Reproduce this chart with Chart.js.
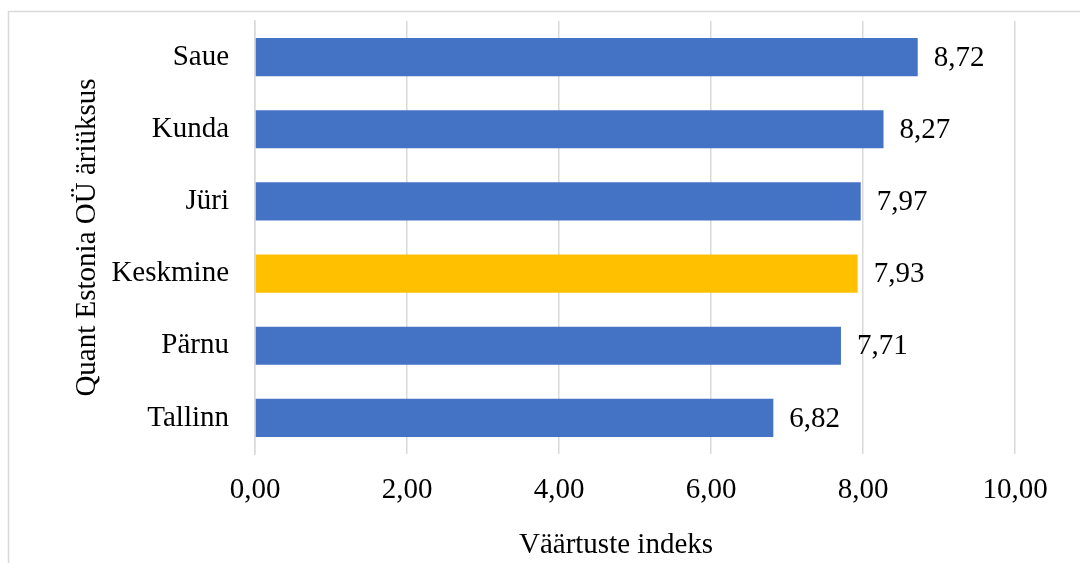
<!DOCTYPE html>
<html>
<head>
<meta charset="utf-8">
<script src="https://cdn.jsdelivr.net/npm/chart.js@4/dist/chart.umd.min.js"></script>
<style>
  html, body { margin: 0; padding: 0; background: #fff; }
  #wrap { position: relative; width: 1080px; height: 563px; }
</style>
</head>
<body>
<div id="wrap"><canvas id="chart"></canvas></div>
<script>
// Business units and their value index
const categories = ['Saue', 'Kunda', 'Jüri', 'Keskmine', 'Pärnu', 'Tallinn'];
const indexValues = [8.72, 8.27, 7.97, 7.93, 7.71, 6.82];
const tickValues = [0, 2, 4, 6, 8, 10];
const xTitle = 'Väärtuste indeks';
const yTitle = 'Quant Estonia OÜ äriüksus';
const averageLabel = 'Keskmine';

const FONT = '"Liberation Serif", "Times New Roman", serif';
const SIZE = 29;
const fmt = v => Number(v).toFixed(2).replace('.', ',');

Chart.defaults.color = '#000';
Chart.defaults.font.family = FONT;
Chart.defaults.font.size = SIZE;

const barColors = categories.map(c => c === averageLabel ? '#FFC000' : '#4472C4');

// Light grey frame around the chart
const framePlugin = {
  id: 'frame',
  beforeDraw(chart) {
    const ctx = chart.ctx;
    ctx.save();
    ctx.strokeStyle = '#d9d9d9';
    ctx.lineWidth = 1.5;
    ctx.strokeRect(8.5, 11.5, chart.width + 40, chart.height + 40);
    ctx.restore();
  }
};

// Value labels to the right of each bar, plus the value-axis title
const labelPlugin = {
  id: 'valueLabels',
  afterDatasetsDraw(chart) {
    const ctx = chart.ctx;
    const meta = chart.getDatasetMeta(0);
    ctx.save();
    ctx.font = SIZE + 'px ' + FONT;
    ctx.fillStyle = '#000';
    ctx.textAlign = 'left';
    ctx.textBaseline = 'middle';
    meta.data.forEach((bar, i) => {
      ctx.fillText(fmt(indexValues[i]), bar.x + 16, bar.y + 1);
    });
    const area = chart.chartArea;
    ctx.textAlign = 'center';
    ctx.fillText(xTitle, (area.left + area.right) / 2 - 19, chart.height - 18);
    ctx.restore();
  }
};

new Chart(document.getElementById('chart'), {
  type: 'bar',
  data: {
    labels: categories,
    datasets: [{
      data: indexValues,
      backgroundColor: barColors,
      borderWidth: 0,
      categoryPercentage: 1,
      barPercentage: 0.53
    }]
  },
  options: {
    indexAxis: 'y',
    responsive: true,
    maintainAspectRatio: false,
    animation: false,
    layout: { padding: { top: 0, right: 65, left: 0, bottom: 0 } },
    plugins: {
      legend: { display: false },
      tooltip: { enabled: false }
    },
    scales: {
      x: {
        min: 0,
        max: 10,
        afterBuildTicks(scale) { scale.ticks = tickValues.map(v => ({ value: v })); },
        afterFit(scale) { scale.height = 109; },
        grid: { color: '#d9d9d9', lineWidth: 1.5, drawTicks: false },
        border: { display: false },
        ticks: { padding: 19, callback: v => fmt(v) }
      },
      y: {
        afterFit(scale) {
          scale.width = 255;
          scale.paddingTop = 21;
          scale.paddingBottom = 0;
        },
        grid: { display: false, drawTicks: false },
        border: { display: true, color: '#d9d9d9', width: 1.5 },
        ticks: { padding: 26 },
        title: {
          display: true,
          text: yTitle,
          padding: { top: 70, bottom: 0 }
        }
      }
    }
  },
  plugins: [framePlugin, labelPlugin]
});
</script>
</body>
</html>
